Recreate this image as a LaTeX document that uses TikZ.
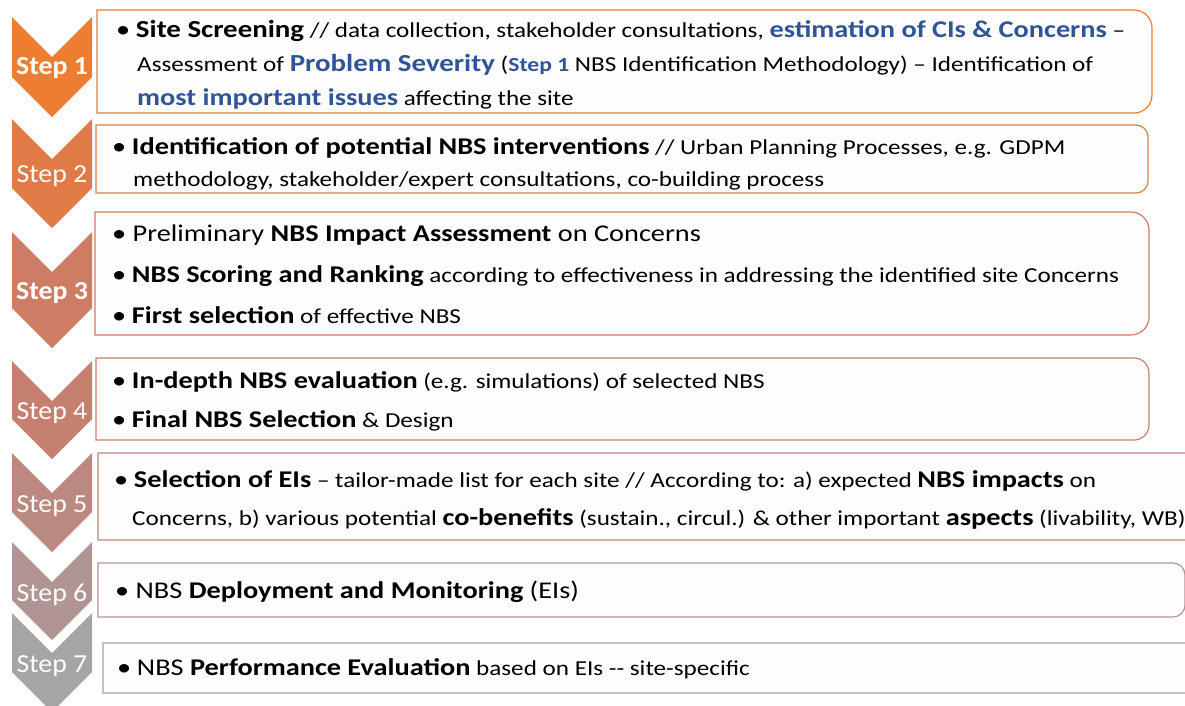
\documentclass[tikz,border=0pt]{standalone}
\usepackage{fontspec}
\setmainfont{Carlito}[FakeStretch=1.18]
\newfontfamily\lblfont{Carlito}[FakeStretch=1.07]

\definecolor{sA}{HTML}{ED7D31}
\definecolor{sB}{HTML}{E07B48}
\definecolor{sC}{HTML}{CE7C63}
\definecolor{sD}{HTML}{C58070}
\definecolor{sE}{HTML}{BC8980}
\definecolor{sF}{HTML}{B09594}
\definecolor{sG}{HTML}{A5A5A5}
\definecolor{hl}{HTML}{2F5597}
\definecolor{boxfill}{HTML}{FDFDFD}

\newcommand{\fs}[1]{\fontsize{#1}{#1}\selectfont}
\newcommand{\bt}[2]{{\fs{#1}\bfseries #2}}
\newcommand{\hb}[2]{{\fs{#1}\bfseries\color{hl}#2}}
\newcommand{\bul}{{\fs{24}•} }

\tikzset{
  chev/.style={fill=#1, draw=none},
  steplbl/.style={anchor=base, text=white, inner sep=0pt, font=\lblfont\fs{26}},
  stepbox/.style={draw=#1, line width=1.2pt, fill=boxfill},
  txt/.style={anchor=base west, inner sep=0pt, font=\fs{21.3}},
}

\begin{document}
\begin{tikzpicture}[x=1pt, y=-1pt]
        \useasboundingbox (0,0) rectangle (1185,705);

        % chevrons: top y, side-bottom y
        \fill[chev=sA] (12,17) -- (52,57) -- (92,17) -- (92,77) -- (52,117) -- (12,77) -- cycle;
        \fill[chev=sB] (12,119) -- (52,159) -- (92,119) -- (92,188) -- (52,228) -- (12,188) -- cycle;
        \fill[chev=sC] (12,232) -- (52,272) -- (92,232) -- (92,308) -- (52,348) -- (12,308) -- cycle;
        \fill[chev=sD] (12,361) -- (52,401) -- (92,361) -- (92,419) -- (52,459) -- (12,419) -- cycle;
        \fill[chev=sE] (12,453) -- (52,493) -- (92,453) -- (92,512) -- (52,552) -- (12,512) -- cycle;
        \fill[chev=sF] (12,542) -- (52,582) -- (92,542) -- (92,600) -- (52,640) -- (12,600) -- cycle;
        \fill[chev=sG] (12,613) -- (52,653) -- (92,613) -- (92,672) -- (52,712) -- (12,672) -- cycle;

        \node[steplbl] (s1) at (52,74) {\bfseries Step 1};
        \node[steplbl] (s2) at (52,182) {Step 2};
        \node[steplbl] (s3) at (52,299) {\bfseries Step 3};
        \node[steplbl] (s4) at (52,419) {Step 4};
        \node[steplbl] (s5) at (52,512) {Step 5};
        \node[steplbl] (s6) at (52,601) {Step 6};
        \node[steplbl] (s7) at (52,672) {Step 7};

        % boxes, square on the left, rounded on the right
        \draw[stepbox=sA] (97,10) -- (600,10) [rounded corners=18] -- (1152,10) -- (1152,113) -- (600,113) [sharp corners] -- (97,113) -- cycle;
        \draw[stepbox=sB] (96,125) -- (600,125) [rounded corners=12] -- (1148,125) -- (1148,193) -- (600,193) [sharp corners] -- (96,193) -- cycle;
        \draw[stepbox=sC] (95,212) -- (600,212) [rounded corners=18] -- (1149,212) -- (1149,335) -- (600,335) [sharp corners] -- (95,335) -- cycle;
        \draw[stepbox=sD] (96,358) -- (600,358) [rounded corners=15] -- (1149,358) -- (1149,440) -- (600,440) [sharp corners] -- (96,440) -- cycle;
        \draw[stepbox=sE] (98,453) -- (600,453) [rounded corners=15] -- (1200,453) -- (1200,540) -- (600,540) [sharp corners] -- (98,540) -- cycle;
        \draw[stepbox=sF] (98,563) -- (600,563) [rounded corners=12] -- (1185,563) -- (1185,617) -- (600,617) [sharp corners] -- (98,617) -- cycle;
        \draw[stepbox=sG] (103,643) -- (600,643) [rounded corners=12] -- (1200,643) -- (1200,693) -- (600,693) [sharp corners] -- (103,693) -- cycle;

        % step 1
        \node[txt] (b1a) at (116,37) {\bul\bt{24.5}{Site Screening} // data collection, stakeholder consultations, \hb{24}{estimation of CIs \& Concerns} –};
        \node[txt] (b1b) at (137,71) {Assessment of \hb{24.5}{Problem Severity} (\hb{20}{Step 1} NBS Identification Methodology) – Identification of};
        \node[txt] (b1c) at (137,105) {\hb{24}{most important issues} affecting the site};

        % step 2
        \node[txt] (b2a) at (112,154) {\bul\bt{24}{Identification of potential NBS interventions} // Urban Planning Processes, e.g. GDPM};
        \node[txt] (b2b) at (133,186) {methodology, stakeholder/expert consultations, co-building process};

        % step 3
        \node[txt, font=\fs{24}] (b3a) at (112,241) {\bul Preliminary \textbf{NBS Impact Assessment} on Concerns};
        \node[txt] (b3b) at (112,282) {\bul\bt{24}{NBS Scoring and Ranking} according to effectiveness in addressing the identified site Concerns};
        \node[txt] (b3c) at (112,323) {\bul\bt{24}{First selection} of effective NBS};

        % step 4
        \node[txt] (b4a) at (112,388) {\bul\bt{24}{In-depth NBS evaluation} (e.g. simulations) of selected NBS};
        \node[txt] (b4b) at (112,427) {\bul\bt{24}{Final NBS Selection} \& Design};

        % step 5
        \node[txt] (b5a) at (114,487) {\bul\bt{24}{Selection of EIs} – tailor-made list for each site // According to: a) expected \bt{24}{NBS impacts} on};
        \node[txt] (b5b) at (132,525) {Concerns, b) various potential \bt{24}{co-benefits} (sustain., circul.) \& other important \bt{24}{aspects} (livability, WB)};

        % step 6
        \node[txt, font=\fs{24}] (b6a) at (115,598) {\bul NBS \textbf{Deployment and Monitoring} (EIs)};

        % step 7
        \node[txt] (b7a) at (117,675) {\bul{\fs{24}NBS \textbf{Performance Evaluation}} based on EIs -{}- site-specific};
      \end{tikzpicture}
\end{document}
